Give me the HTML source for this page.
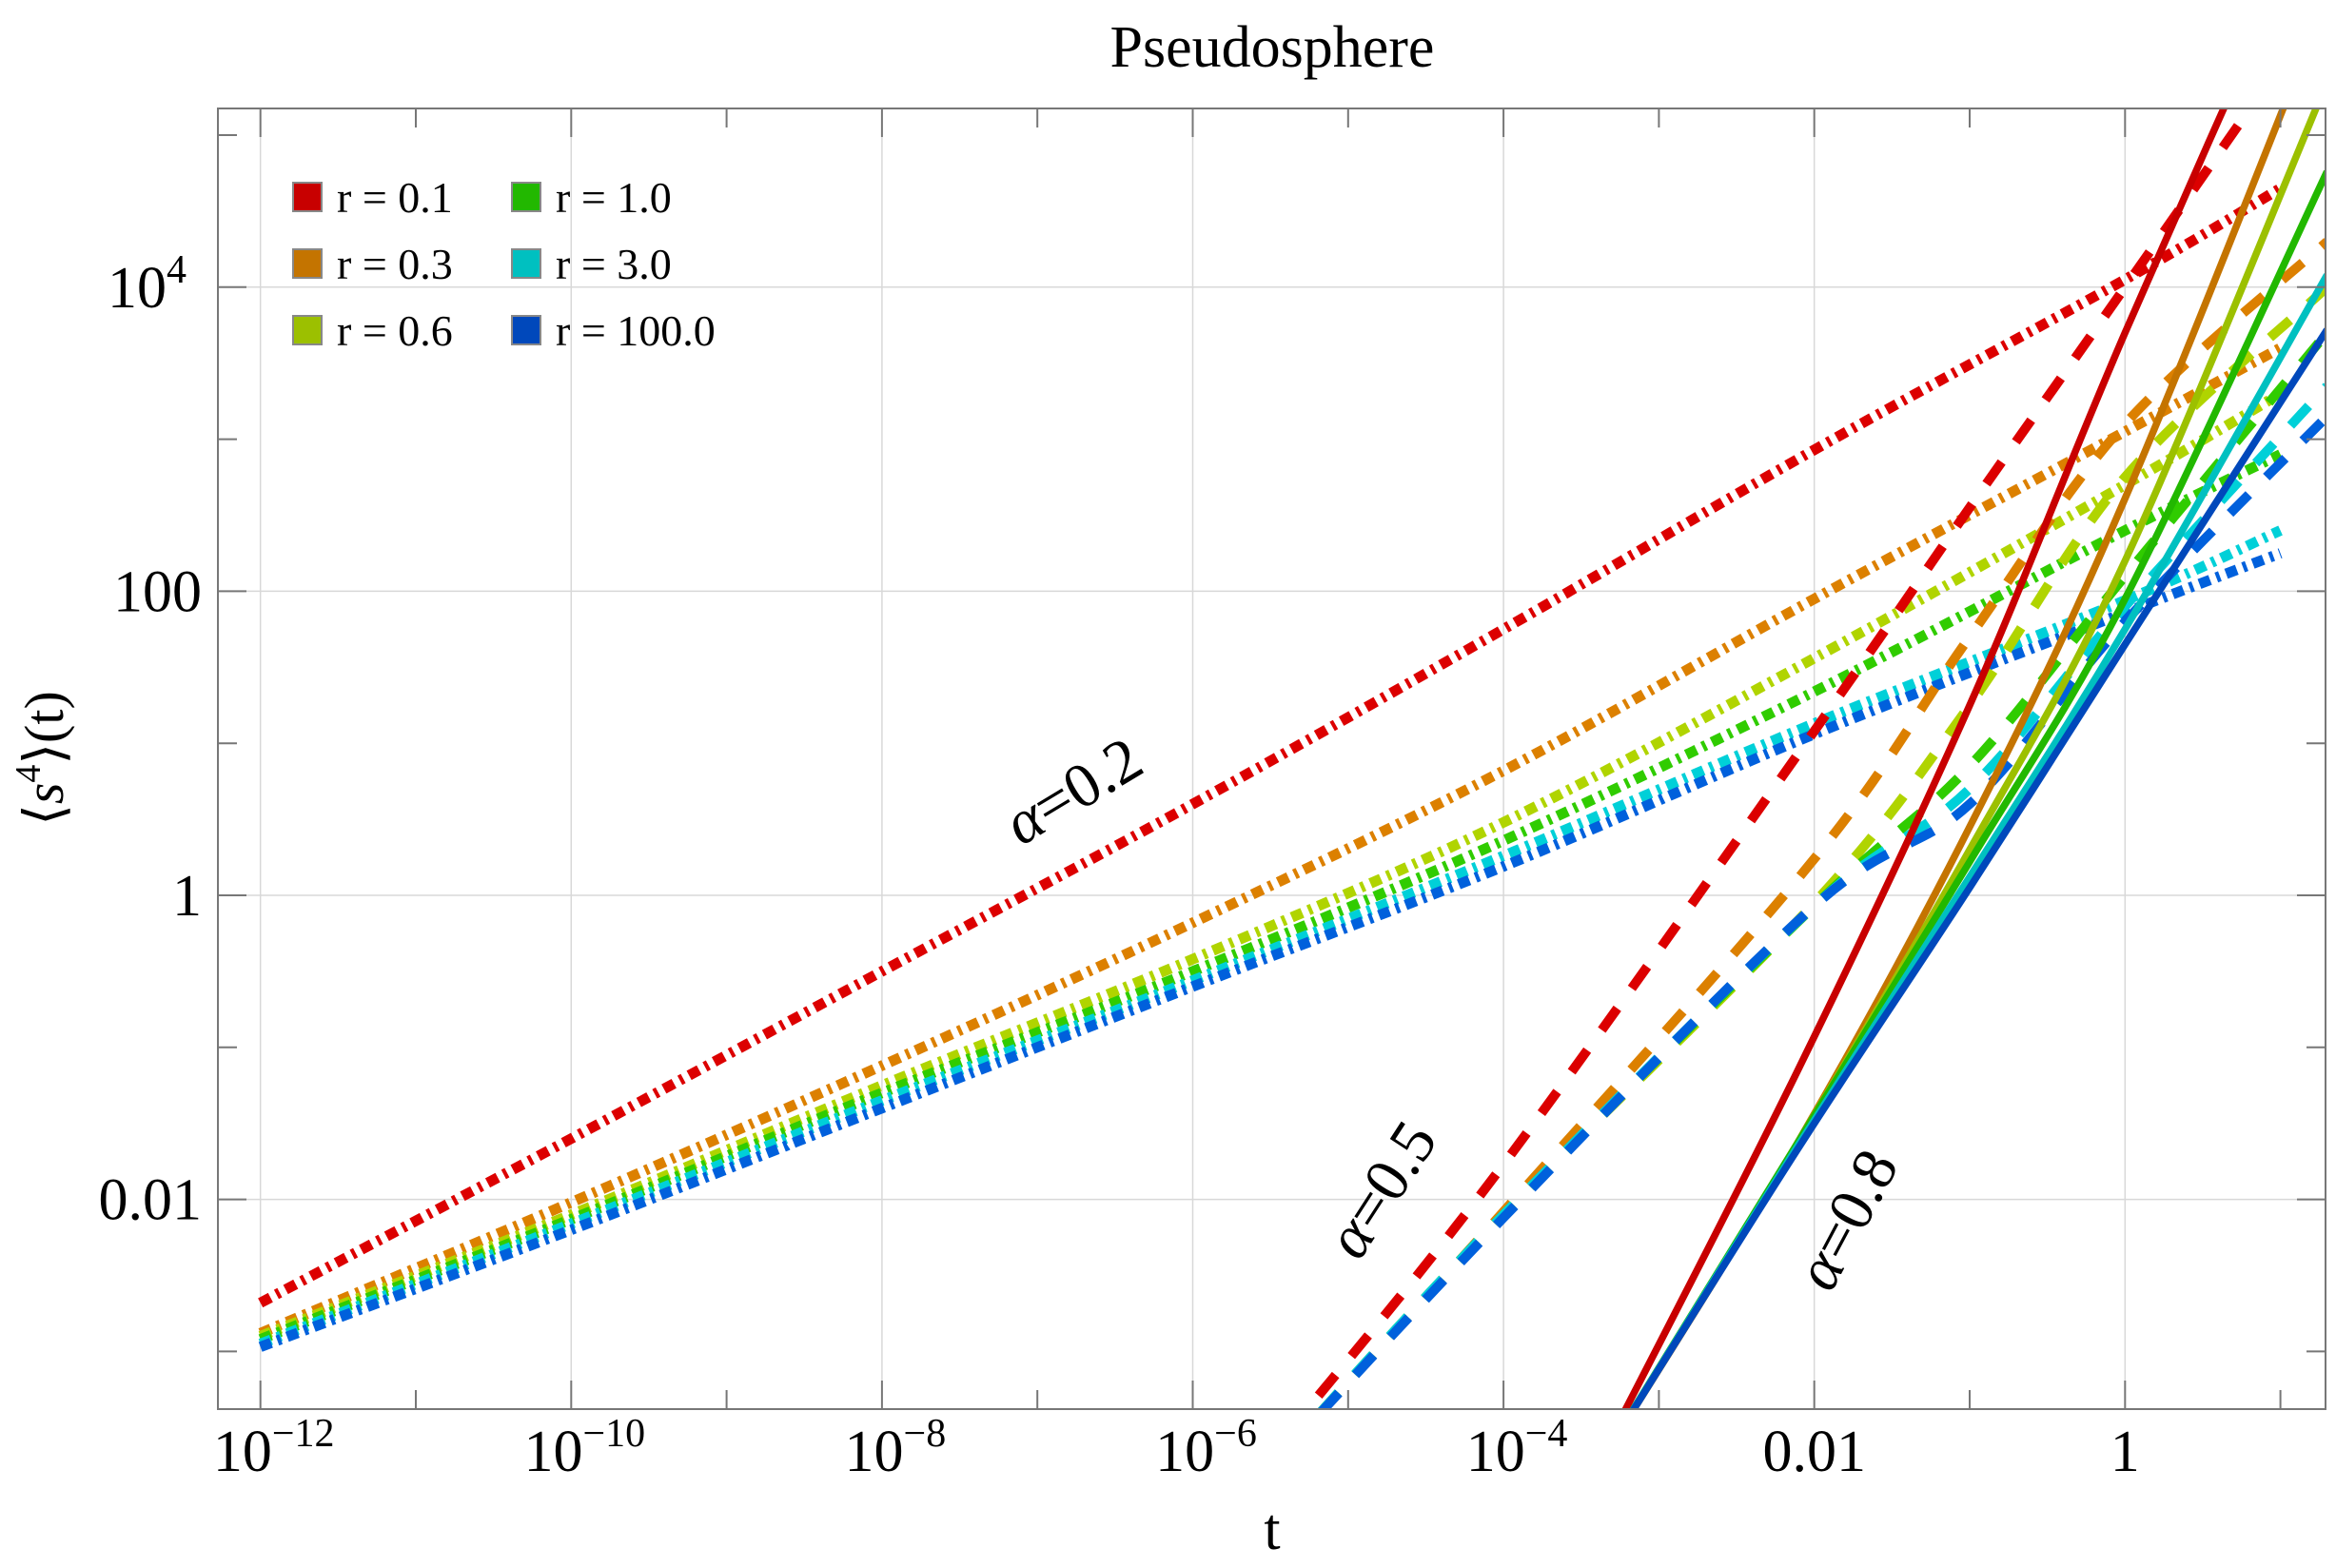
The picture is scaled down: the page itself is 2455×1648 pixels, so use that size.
<!DOCTYPE html>
<html><head><meta charset="utf-8"><style>
html,body{margin:0;padding:0;background:#fff;}
svg{display:block;font-family:"Liberation Serif",serif;}
</style></head><body>
<svg id="chart" width="2455" height="1648" viewBox="0 0 2455 1648" xmlns="http://www.w3.org/2000/svg">
<defs><clipPath id="plotclip"><rect x="229" y="114" width="2215" height="1367"/></clipPath></defs>
<rect x="0" y="0" width="2455" height="1648" fill="#fff"/>
<text x="1337" y="70" text-anchor="middle" font-size="62">Pseudosphere</text>
<g id="grid"></g>
<g id="series" clip-path="url(#plotclip)"></g>
<rect x="229" y="114" width="2215" height="1367" fill="none" stroke="#777" stroke-width="2"/>
<g id="ticks"></g>
<text x="1337" y="1628" text-anchor="middle" font-size="62">t</text>
<text transform="translate(66,797) rotate(-90)" text-anchor="middle" font-size="58">⟨<tspan font-style="italic">s</tspan><tspan font-size="38" dy="-24">4</tspan><tspan dy="24">⟩(t)</tspan></text>
<text transform="translate(1139,850) rotate(-31)" text-anchor="middle" font-size="66"><tspan font-style="italic">α</tspan>=0.2</text>
<text transform="translate(1470,1262) rotate(-57)" text-anchor="middle" font-size="66"><tspan font-style="italic">α</tspan>=0.5</text>
<text transform="translate(1960,1292) rotate(-62)" text-anchor="middle" font-size="66"><tspan font-style="italic">α</tspan>=0.8</text>
<g id="legend"></g>
</svg>
<script>
const rNames = ["r = 0.1","r = 0.3","r = 0.6","r = 1.0","r = 3.0","r = 100.0"];
const colorsSolid = ["#c80000","#c47400","#9cc000","#22b800","#00c0c0","#0048bb"];
const colorsDash = ["#dc0000","#dc8000","#b0d400","#30cc00","#00d0d8","#0060dc"];
const xTickExps = [-12,-10,-8,-6,-4,-2,0];
const xTickLabels = ["10^-12","10^-10","10^-8","10^-6","10^-4","0.01","1"];
const yTickExps = [4,2,0,-2];
const yTickLabels = ["10^4","100","1","0.01"];
// alpha = 0.2 (dot-dashed): log10 t and log10 <s^4>
const tA02 = [-12,-10,-8,-6,-4,-2,0,1];
const yA02 = [
 [-2.68,-1.60,-0.50,0.60,1.75,2.93,4.05,4.65],
 [-2.88,-2.02,-1.12,-0.18,0.82,1.95,3.05,3.60],
 [-2.90,-2.10,-1.25,-0.42,0.48,1.56,2.70,3.30],
 [-2.92,-2.13,-1.30,-0.50,0.36,1.34,2.40,2.90],
 [-2.95,-2.16,-1.35,-0.56,0.26,1.13,1.94,2.40],
 [-2.97,-2.20,-1.40,-0.60,0.19,1.06,1.86,2.25]
];
// alpha = 0.5 (dashed)
const tA05 = [-5.4,-4,-2,-1,0,1.3];
const yA05 = [
 [-3.55,-1.77,1.08,2.55,4.00,5.90],
 [-3.65,-2.08,0.24,1.70,3.10,4.30],
 [-3.65,-2.10,-0.05,1.25,2.75,4.00],
 [-3.65,-2.10,-0.07,0.85,2.10,3.70],
 [-3.65,-2.10,-0.07,0.70,1.90,3.35],
 [-3.65,-2.12,-0.07,0.60,1.80,3.15]
];
// alpha = 0.8 (solid)
const tA08 = [-3.4,-2.12,-1,0,1.3];
const yA08 = [
 [-3.75,-1.18,1.25,3.70,6.70],
 [-3.77,-1.65,0.45,2.61,5.90],
 [-3.77,-1.65,0.30,2.20,5.35],
 [-3.77,-1.65,0.22,1.95,4.76],
 [-3.77,-1.67,0.12,1.75,4.08],
 [-3.77,-1.69,0.05,1.65,3.72]
];

const NS="http://www.w3.org/2000/svg";
const X0=273.7, DX=163.3, Y0=941, DY=159.8;
function xs(lt){return X0+(lt+12)*DX;}
function ys(ly){return Y0-ly*DY;}
function mk(tag,attrs,parent){const e=document.createElementNS(NS,tag);for(const k in attrs)e.setAttribute(k,attrs[k]);parent.appendChild(e);return e;}
function smoothPath(pts){
  let d="M"+pts[0][0].toFixed(1)+","+pts[0][1].toFixed(1);
  for(let i=0;i<pts.length-1;i++){
    const p0=pts[Math.max(i-1,0)],p1=pts[i],p2=pts[i+1],p3=pts[Math.min(i+2,pts.length-1)];
    const c1=[p1[0]+(p2[0]-p0[0])/6,p1[1]+(p2[1]-p0[1])/6];
    const c2=[p2[0]-(p3[0]-p1[0])/6,p2[1]-(p3[1]-p1[1])/6];
    d+=" C"+c1[0].toFixed(1)+","+c1[1].toFixed(1)+" "+c2[0].toFixed(1)+","+c2[1].toFixed(1)+" "+p2[0].toFixed(1)+","+p2[1].toFixed(1);
  }
  return d;
}
const grid=document.getElementById('grid');
const ticks=document.getElementById('ticks');
for(let e=-12;e<=1;e++){
  const x=xs(e);
  const major=(e%2===0);
  if(major){
    const g=mk('line',{x1:x,x2:x,y1:114,y2:1481,stroke:"#d8d8d8","stroke-width":1.5},grid);
    
    
  }
  const len=major?30:20;
  const t1=mk('line',{x1:x,x2:x,y1:1481,y2:1481-len,stroke:"#777","stroke-width":2},ticks);
  
  
  const t2=mk('line',{x1:x,x2:x,y1:114,y2:114+len,stroke:"#777","stroke-width":2},ticks);
  
  
}
for(let e=-3;e<=5;e++){
  const y=ys(e);
  const major=(e%2===0);
  if(major){
    const g=mk('line',{x1:229,x2:2444,y1:y,y2:y,stroke:"#d8d8d8","stroke-width":1.5},grid);
    
    
  }
  const len=major?30:20;
  const t1=mk('line',{x1:229,x2:229+len,y1:y,y2:y,stroke:"#777","stroke-width":2},ticks);
  
  
  const t2=mk('line',{x1:2444,x2:2444-len,y1:y,y2:y,stroke:"#777","stroke-width":2},ticks);
  
  
}
function labelText(str,x,y,anchor,name){
  const t=mk('text',{x:x,y:y,"text-anchor":anchor,"font-size":62},ticks);
  
  
  const p=str.split("^");
  t.textContent=p[0];
  if(p.length>1){
    const s=mk('tspan',{"font-size":42,dy:-26},t);
    s.textContent=p[1].replace("-","\u2212");
  }
}
xTickExps.forEach((e,i)=>labelText(xTickLabels[i],xs(e)+(xTickLabels[i].includes("^")?14:0),1546,"middle",'x-tick-label'));
yTickExps.forEach((e,i)=>labelText(yTickLabels[i],yTickLabels[i].includes("^")?196:212,ys(e)+21,"end",'y-tick-label'));

const series=document.getElementById('series');
function drawGroup(ts,vals,colors,dash,width,name){
  vals.forEach((v,k)=>{
    const pts=ts.map((t,i)=>[xs(t),ys(v[i])]);
    const p=mk('path',{d:smoothPath(pts),fill:"none",stroke:colors[k],"stroke-width":width,"stroke-dasharray":dash,"stroke-linecap":"butt"},series);
    
    
  });
}
drawGroup(tA02,yA02,colorsDash,"12 7 4 7",11,'line-alpha02');
drawGroup(tA05,yA05,colorsDash,"28 26",10,'line-alpha05');
drawGroup(tA08,yA08,colorsSolid,"none",7.5,'line-alpha08');

const legend=document.getElementById('legend');
rNames.forEach((n,i)=>{
  const col=Math.floor(i/3), row=i%3;
  const x=col?538:308, y=207+row*70;
  const r=mk('rect',{x:x,y:y-15,width:30,height:30,fill:colorsSolid[i],stroke:"#888","stroke-width":2},legend);
  
  
  const t=mk('text',{x:x+46,y:y+16,"font-size":46},legend);
  
  
  t.textContent=n;
});
</script>
</body></html>
